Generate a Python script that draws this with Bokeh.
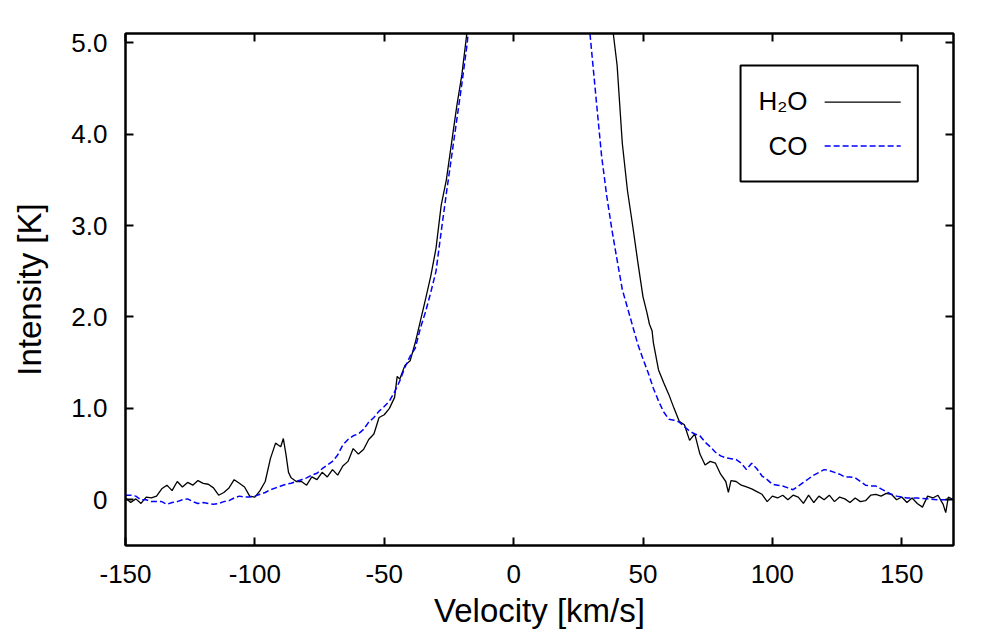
from bokeh.plotting import figure
from bokeh.models import (Range1d, FixedTicker, LinearAxis, BoxAnnotation, Label, Arrow)
from bokeh.embed import file_html
from bokeh.resources import INLINE

# ---- data ----
h2o_v = [-150, -148, -146, -144, -142, -140, -138, -136, -134, -132, -130, -128, -126, -124,
         -122, -120, -118, -116, -114, -112, -110, -108, -106, -104, -102, -100, -98, -96,
         -94, -92, -91, -90, -89, -88, -87, -86, -84, -82, -80, -78, -76, -74, -72, -70,
         -68, -66, -64, -62, -60, -58, -56, -54, -52, -50, -48, -46, -45, -44, -42, -40,
         -38, -36, -34, -32, -30, -28, -26, -24, -22, -20, -18, -14, -8, 0, 10, 20, 30,
         34, 38, 40, 42, 44, 46, 48, 50, 51.5, 52.5, 53.5, 54, 56, 58, 60, 62, 64, 66, 68,
         70, 72, 74, 76, 78, 80, 82, 83, 84, 86, 88, 90, 92, 94, 96, 98, 100, 102, 104, 106,
         108, 110, 112, 114, 116, 118, 120, 122, 124, 126, 128, 130, 132, 134, 136, 138, 140,
         142, 144, 146, 148, 150, 152, 154, 156, 158, 160, 162, 164, 166, 167, 168, 170]
h2o_i = [0.02, -0.03, 0.01, -0.04, 0.03, 0.02, 0.04, 0.12, 0.16, 0.10, 0.20, 0.14, 0.19, 0.16,
         0.21, 0.18, 0.17, 0.13, 0.05, 0.08, 0.13, 0.22, 0.18, 0.14, 0.04, 0.03, 0.10, 0.20,
         0.45, 0.62, 0.60, 0.58, 0.67, 0.50, 0.30, 0.24, 0.20, 0.20, 0.16, 0.25, 0.22, 0.30,
         0.25, 0.33, 0.27, 0.37, 0.42, 0.56, 0.50, 0.55, 0.66, 0.72, 0.90, 0.93, 1.00, 1.12,
         1.35, 1.32, 1.47, 1.52, 1.72, 1.96, 2.20, 2.45, 2.75, 3.22, 3.50, 3.90, 4.30, 4.65,
         5.12, 6.20, 7.80, 9.50, 10.50, 10.00, 7.00, 6.10, 5.22, 4.75, 3.90, 3.38, 3.00, 2.60,
         2.22, 2.05, 1.92, 1.85, 1.72, 1.42, 1.28, 1.15, 1.00, 0.86, 0.82, 0.65, 0.72, 0.50,
         0.38, 0.42, 0.40, 0.28, 0.20, 0.08, 0.21, 0.20, 0.16, 0.14, 0.12, 0.09, 0.06, -0.02,
         0.04, 0.02, 0.05, 0.00, 0.05, 0.03, -0.04, 0.05, -0.03, 0.04, 0.00, 0.05, -0.02, 0.03,
         0.01, -0.03, 0.02, -0.02, -0.01, 0.05, 0.06, 0.04, 0.07, 0.06, 0.00, 0.03, -0.03, 0.02,
         -0.04, -0.08, 0.04, 0.02, 0.05, -0.05, -0.14, 0.03, 0.00]

co_v = [-150, -148, -146, -144, -142, -140, -138, -136, -134, -132, -130, -128, -126, -124,
        -122, -120, -118, -116, -114, -112, -110, -108, -106, -104, -102, -100, -98, -96,
        -94, -92, -90, -88, -86, -84, -82, -80, -78, -76, -74, -72, -70, -68, -66, -64,
        -62, -60, -58, -56, -54, -52, -50, -48, -46, -44, -42, -40, -38, -36, -34, -32,
        -30, -28, -26, -24, -22, -20, -18, -16, -10, 0, 10, 20, 26, 29, 30, 32, 34, 36, 38,
        40, 42, 44, 46, 48, 50, 52, 54, 56, 58, 60, 62, 64, 66, 68, 70, 72, 74, 76, 78, 80,
        82, 84, 86, 88, 90, 92, 94, 96, 98, 100, 102, 104, 106, 108, 110, 112, 114, 116, 118,
        120, 122, 124, 126, 128, 130, 132, 134, 136, 138, 140, 142, 144, 146, 148, 150, 152,
        156, 160, 164, 168, 170]
co_i = [0.05, 0.05, 0.04, 0.00, 0.00, -0.02, -0.02, -0.02, -0.05, -0.03, -0.02, 0.00, 0.01,
        -0.02, -0.04, -0.03, -0.04, -0.05, -0.04, -0.02, -0.01, 0.02, 0.04, 0.03, 0.03, 0.04,
        0.06, 0.08, 0.11, 0.13, 0.15, 0.17, 0.18, 0.20, 0.22, 0.24, 0.27, 0.29, 0.34, 0.38,
        0.42, 0.49, 0.60, 0.66, 0.70, 0.72, 0.77, 0.85, 0.90, 0.97, 1.02, 1.08, 1.18, 1.30,
        1.45, 1.57, 1.66, 1.88, 2.06, 2.27, 2.50, 2.93, 3.35, 3.75, 4.15, 4.55, 4.98, 5.55,
        7.20, 9.00, 9.50, 8.30, 6.30, 5.25, 4.95, 4.35, 3.76, 3.32, 2.95, 2.62, 2.30, 2.10,
        1.90, 1.70, 1.54, 1.39, 1.22, 1.08, 0.96, 0.88, 0.87, 0.85, 0.80, 0.75, 0.72, 0.70,
        0.63, 0.58, 0.52, 0.48, 0.46, 0.45, 0.44, 0.40, 0.33, 0.40, 0.34, 0.26, 0.22, 0.17,
        0.16, 0.15, 0.13, 0.11, 0.15, 0.19, 0.23, 0.27, 0.30, 0.33, 0.32, 0.30, 0.28, 0.25,
        0.25, 0.24, 0.20, 0.16, 0.15, 0.15, 0.12, 0.09, 0.06, 0.04, 0.03, 0.02, 0.02, 0.01,
        0.00, 0.00, 0.01]

x_ticks = [-150, -100, -50, 0, 50, 100, 150]
x_tick_labels = ["-150", "-100", "-50", "0", "50", "100", "150"]
y_ticks = [0, 1, 2, 3, 4, 5]
y_tick_labels = ["0", "1.0", "2.0", "3.0", "4.0", "5.0"]
series_names = ["H\u2082O", "CO"]

FONT = "Liberation Sans"

p = figure(width=992, height=631, output_backend="svg", toolbar_location=None,
           x_range=Range1d(-150, 170), y_range=Range1d(-0.5, 5.1),
           min_border_left=125, min_border_right=39, min_border_top=33, min_border_bottom=84)
p.grid.visible = False
p.outline_line_color = "black"
p.outline_line_width = 2
p.background_fill_color = "white"
p.border_fill_color = "white"

p.line(h2o_v, h2o_i, line_color="black", line_width=1.3)
p.line(co_v, co_i, line_color="#0000ff", line_width=1.5, line_dash="6 3")

def style(ax):
    ax.major_tick_in = 8
    ax.major_tick_out = 0
    ax.major_tick_line_width = 2
    ax.major_tick_line_color = "black"
    ax.minor_tick_line_color = None
    ax.axis_line_color = "black"
    ax.axis_line_width = 2
    ax.major_label_text_font = FONT
    ax.major_label_text_font_size = "26px"
    ax.major_label_text_color = "black"
    ax.axis_label_text_font = FONT
    ax.axis_label_text_font_size = "33px"
    ax.axis_label_text_font_style = "normal"
    ax.axis_label_text_color = "black"

xa = p.xaxis[0]
ya = p.yaxis[0]
style(xa); style(ya)
xa.ticker = FixedTicker(ticks=x_ticks)
ya.ticker = FixedTicker(ticks=y_ticks)
xa.major_label_overrides = {t: l for t, l in zip(x_ticks, x_tick_labels)}
ya.major_label_overrides = {t: l for t, l in zip(y_ticks, y_tick_labels)}
xa.axis_label = "Velocity [km/s]"
ya.axis_label = "Intensity [K]"
xa.major_label_standoff = 19
ya.major_label_standoff = 18
xa.axis_label_standoff = 6
ya.axis_label_standoff = 20

top = LinearAxis(ticker=FixedTicker(ticks=x_ticks))
right = LinearAxis(ticker=FixedTicker(ticks=y_ticks))
for ax, ticks in ((top, x_ticks), (right, y_ticks)):
    style(ax)
    ax.major_label_overrides = {t: "" for t in ticks}
    ax.major_label_standoff = 0
p.add_layout(top, "above")
p.add_layout(right, "right")

# legend (gnuplot style: text, then sample)
p.add_layout(BoxAnnotation(left=87.7, right=156.2, top=4.75, bottom=3.48,
                           fill_color="white", fill_alpha=1.0,
                           line_color="black", line_alpha=1.0, line_width=2))
p.add_layout(Label(x=113.6, y=4.36, text=series_names[0], text_align="right",
                   text_baseline="middle", text_font=FONT, text_font_size="26px",
                   text_color="black"))
p.add_layout(Label(x=113.6, y=3.87, text=series_names[1], text_align="right",
                   text_baseline="middle", text_font=FONT, text_font_size="26px",
                   text_color="black"))
p.add_layout(Arrow(x_start=120.2, y_start=4.35, x_end=149.6, y_end=4.35, end=None,
                   line_color="black", line_width=1.3))
p.add_layout(Arrow(x_start=120.2, y_start=3.87, x_end=149.6, y_end=3.87, end=None,
                   line_color="#0000ff", line_width=1.5, line_dash="6 3"))

open("out.html", "w").write(file_html(p, INLINE))
